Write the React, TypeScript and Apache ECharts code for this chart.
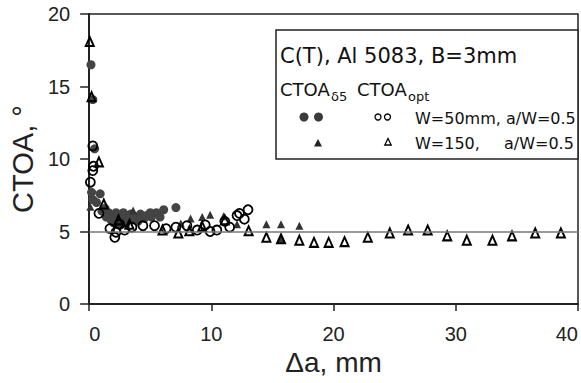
import React, { useEffect, useRef } from "react";
import * as echarts from "echarts";

// Tick values
const xTicks = [0, 10, 20, 30, 40];
const yTicks = [0, 5, 10, 15, 20];

// CTOA_delta5, W=50mm (filled circles)
const delta5W50: [number, number][] = [
  [0.15, 16.5], [0.3, 14.1], [0.45, 10.7], [0.2, 7.7], [0.9, 7.6], [0.3, 7.2],
  [0.6, 7.0], [1.05, 6.4], [1.3, 6.6], [1.6, 6.3], [1.9, 6.1], [2.2, 6.3],
  [2.5, 6.0], [2.8, 6.3], [3.1, 6.1], [3.4, 6.2], [3.8, 6.0], [4.2, 6.2],
  [4.7, 6.1], [5.1, 6.0], [5.5, 6.3], [6.1, 6.5], [7.1, 6.65], [2.0, 5.6],
  [2.6, 5.7], [3.0, 5.5], [4.0, 5.7], [1.4, 6.0], [3.6, 5.8], [1.8, 5.8],
  [2.3, 5.5], [2.7, 6.1], [3.3, 5.9], [4.5, 5.9], [5.0, 6.3], [5.8, 6.0],
];

// CTOA_opt, W=50mm (open circles)
const optW50: [number, number][] = [
  [0.1, 8.4], [0.3, 10.9], [0.35, 9.5], [0.3, 9.2], [0.8, 6.25], [1.7, 5.2],
  [2.1, 4.6], [2.2, 4.95], [2.5, 5.5], [2.9, 5.1], [3.5, 5.3], [4.4, 5.4],
  [5.35, 5.4], [6.3, 5.2], [7.1, 5.3], [8.0, 5.4], [8.85, 5.1], [9.5, 5.45],
  [9.9, 5.0], [10.45, 5.1], [11.1, 5.7], [11.5, 5.3], [12.1, 6.1], [12.3, 6.25],
  [12.7, 5.85], [13.0, 6.5],
];

// CTOA_delta5, W=150mm (filled triangles)
const delta5W150: [number, number][] = [
  [0.1, 6.7], [2.4, 5.9], [3.6, 6.45], [7.5, 5.55], [8.3, 5.9], [9.25, 6.0],
  [9.9, 6.15], [11.0, 6.05], [12.1, 5.5], [14.5, 5.5], [15.7, 5.5], [17.2, 5.4],
  [15.7, 4.5],
];

// CTOA_opt, W=150mm (open triangles)
const optW150: [number, number][] = [
  [0.05, 18.1], [0.2, 14.3], [0.8, 9.8], [1.2, 6.9], [2.4, 5.8], [3.3, 5.5],
  [6.0, 5.1], [7.3, 4.9], [8.2, 5.05], [9.25, 5.35], [11.1, 5.8], [13.05, 5.05],
  [14.5, 4.6], [15.7, 4.5], [17.2, 4.4], [18.4, 4.25], [19.6, 4.25], [20.9, 4.3],
  [22.8, 4.6], [24.6, 4.9], [26.1, 5.1], [27.7, 5.1], [29.3, 4.7], [30.9, 4.4],
  [33.0, 4.4], [34.6, 4.7], [36.5, 4.9], [38.6, 4.9],
];

const refLineY = 5;

const titleText = "C(T), Al 5083, B=3mm";
const row1Text = "W=50mm, a/W=0.5";
const row2TextA = "W=150,";
const row2TextB = "a/W=0.5";
const xName = "\u0394a, mm";
const yName = "CTOA, \u00b0";

const legendFont = "'DejaVu Sans', sans-serif";
const axisFont = "'Liberation Sans', Arial, sans-serif";

export default function App() {
  const ref = useRef<HTMLDivElement>(null);
  useEffect(() => {
    if (!ref.current) return;
    const chart = echarts.init(ref.current, null, { renderer: "svg" });
    const option: any = {
      animation: false,
      backgroundColor: "#fff",
      grid: {
        left: 82,
        right: 3,
        top: 14,
        bottom: 79,
        show: true,
        borderColor: "#222",
        borderWidth: 1.5,
        backgroundColor: "transparent",
      },
      xAxis: {
        type: "value",
        min: xTicks[0],
        max: xTicks[xTicks.length - 1],
        interval: 10,
        name: xName,
        nameLocation: "middle",
        nameGap: 44,
        nameTextStyle: { fontSize: 28, color: "#222", fontFamily: axisFont },
        axisLine: { show: true, lineStyle: { color: "#222", width: 2 } },
        axisTick: { show: true, length: 7, lineStyle: { color: "#222", width: 1.5 } },
        axisLabel: {
          fontSize: 20,
          color: "#222",
          fontFamily: axisFont,
          margin: 20,
          alignMinLabel: "left",
          alignMaxLabel: "right",
        },
        splitLine: { show: false },
      },
      yAxis: {
        type: "value",
        min: yTicks[0],
        max: yTicks[yTicks.length - 1],
        interval: 5,
        name: yName,
        nameLocation: "middle",
        nameRotate: 90,
        nameGap: 36,
        nameTextStyle: { fontSize: 29, color: "#222", fontFamily: axisFont },
        axisLine: { show: true, lineStyle: { color: "#222", width: 2 } },
        axisTick: { show: true, length: 9, lineStyle: { color: "#222", width: 1.5 } },
        axisLabel: { fontSize: 20, color: "#222", fontFamily: axisFont, margin: 19 },
        splitLine: { show: false },
      },
      series: [
        {
          type: "scatter",
          data: delta5W50,
          symbol: "circle",
          symbolSize: 9,
          itemStyle: { color: "#444", opacity: 1 },
          markLine: {
            silent: true,
            symbol: "none",
            label: { show: false },
            lineStyle: { color: "#777", width: 1.5, type: "solid" },
            data: [{ yAxis: refLineY }],
          },
          z: 2,
        },
        {
          type: "scatter",
          data: delta5W150,
          symbol: "triangle",
          symbolSize: [8, 8],
          itemStyle: { color: "#333", opacity: 1 },
          z: 3,
        },
        {
          type: "scatter",
          data: optW50,
          symbol: "circle",
          symbolSize: 9,
          itemStyle: { color: "rgba(0,0,0,0)", borderColor: "#000", borderWidth: 1.8, opacity: 1 },
          z: 4,
        },
        {
          type: "scatter",
          data: optW150,
          symbol: "triangle",
          symbolSize: [8, 9],
          itemStyle: { color: "rgba(0,0,0,0)", borderColor: "#000", borderWidth: 2, opacity: 1 },
          z: 4,
        },
      ],
      graphic: [
        {
          type: "rect",
          z: 100,
          shape: { x: 276, y: 30, width: 302, height: 129 },
          style: { fill: "#fff", stroke: "#222", lineWidth: 1.5 },
        },
        {
          type: "text",
          z: 101,
          x: 280,
          y: 56,
          style: { text: titleText, fontSize: 21, fontFamily: legendFont, fill: "#111", verticalAlign: "middle" },
        },
        {
          type: "text",
          z: 101,
          x: 280,
          y: 89,
          style: { text: "CTOA", fontSize: 18, fontFamily: legendFont, fill: "#111", verticalAlign: "middle" },
        },
        {
          type: "text",
          z: 101,
          x: 331,
          y: 96,
          style: { text: "\u03b45", fontSize: 13, fontFamily: legendFont, fill: "#111", verticalAlign: "middle" },
        },
        {
          type: "text",
          z: 101,
          x: 357,
          y: 89,
          style: { text: "CTOA", fontSize: 18, fontFamily: legendFont, fill: "#111", verticalAlign: "middle" },
        },
        {
          type: "text",
          z: 101,
          x: 408,
          y: 96,
          style: { text: "opt", fontSize: 13, fontFamily: legendFont, fill: "#111", verticalAlign: "middle" },
        },
        { type: "circle", z: 101, shape: { cx: 304, cy: 117, r: 4.5 }, style: { fill: "#3a3a3a" } },
        { type: "circle", z: 101, shape: { cx: 318.5, cy: 117, r: 4.5 }, style: { fill: "#3a3a3a" } },
        { type: "circle", z: 101, shape: { cx: 378, cy: 117, r: 3 }, style: { fill: "#fff", stroke: "#000", lineWidth: 1.3 } },
        { type: "circle", z: 101, shape: { cx: 387.5, cy: 117, r: 3 }, style: { fill: "#fff", stroke: "#000", lineWidth: 1.3 } },
        {
          type: "text",
          z: 101,
          x: 415,
          y: 118,
          style: { text: row1Text, fontSize: 16, fontFamily: legendFont, fill: "#111", verticalAlign: "middle" },
        },
        {
          type: "polygon",
          z: 101,
          shape: { points: [[318, 139], [314, 146.5], [322, 146.5]] },
          style: { fill: "#222" },
        },
        {
          type: "polygon",
          z: 101,
          shape: { points: [[388, 138.5], [384.8, 145], [391.2, 145]] },
          style: { fill: "#fff", stroke: "#000", lineWidth: 1.3 },
        },
        {
          type: "text",
          z: 101,
          x: 415,
          y: 143,
          style: { text: row2TextA, fontSize: 16, fontFamily: legendFont, fill: "#111", verticalAlign: "middle" },
        },
        {
          type: "text",
          z: 101,
          x: 504,
          y: 143,
          style: { text: row2TextB, fontSize: 16, fontFamily: legendFont, fill: "#111", verticalAlign: "middle" },
        },
      ],
    };
    chart.setOption(option);
    return () => chart.dispose();
  }, []);
  return (
    <div
      ref={ref}
      style={{ position: "fixed", left: 0, top: 0, width: 581, height: 383, background: "#fff" }}
    />
  );
}
